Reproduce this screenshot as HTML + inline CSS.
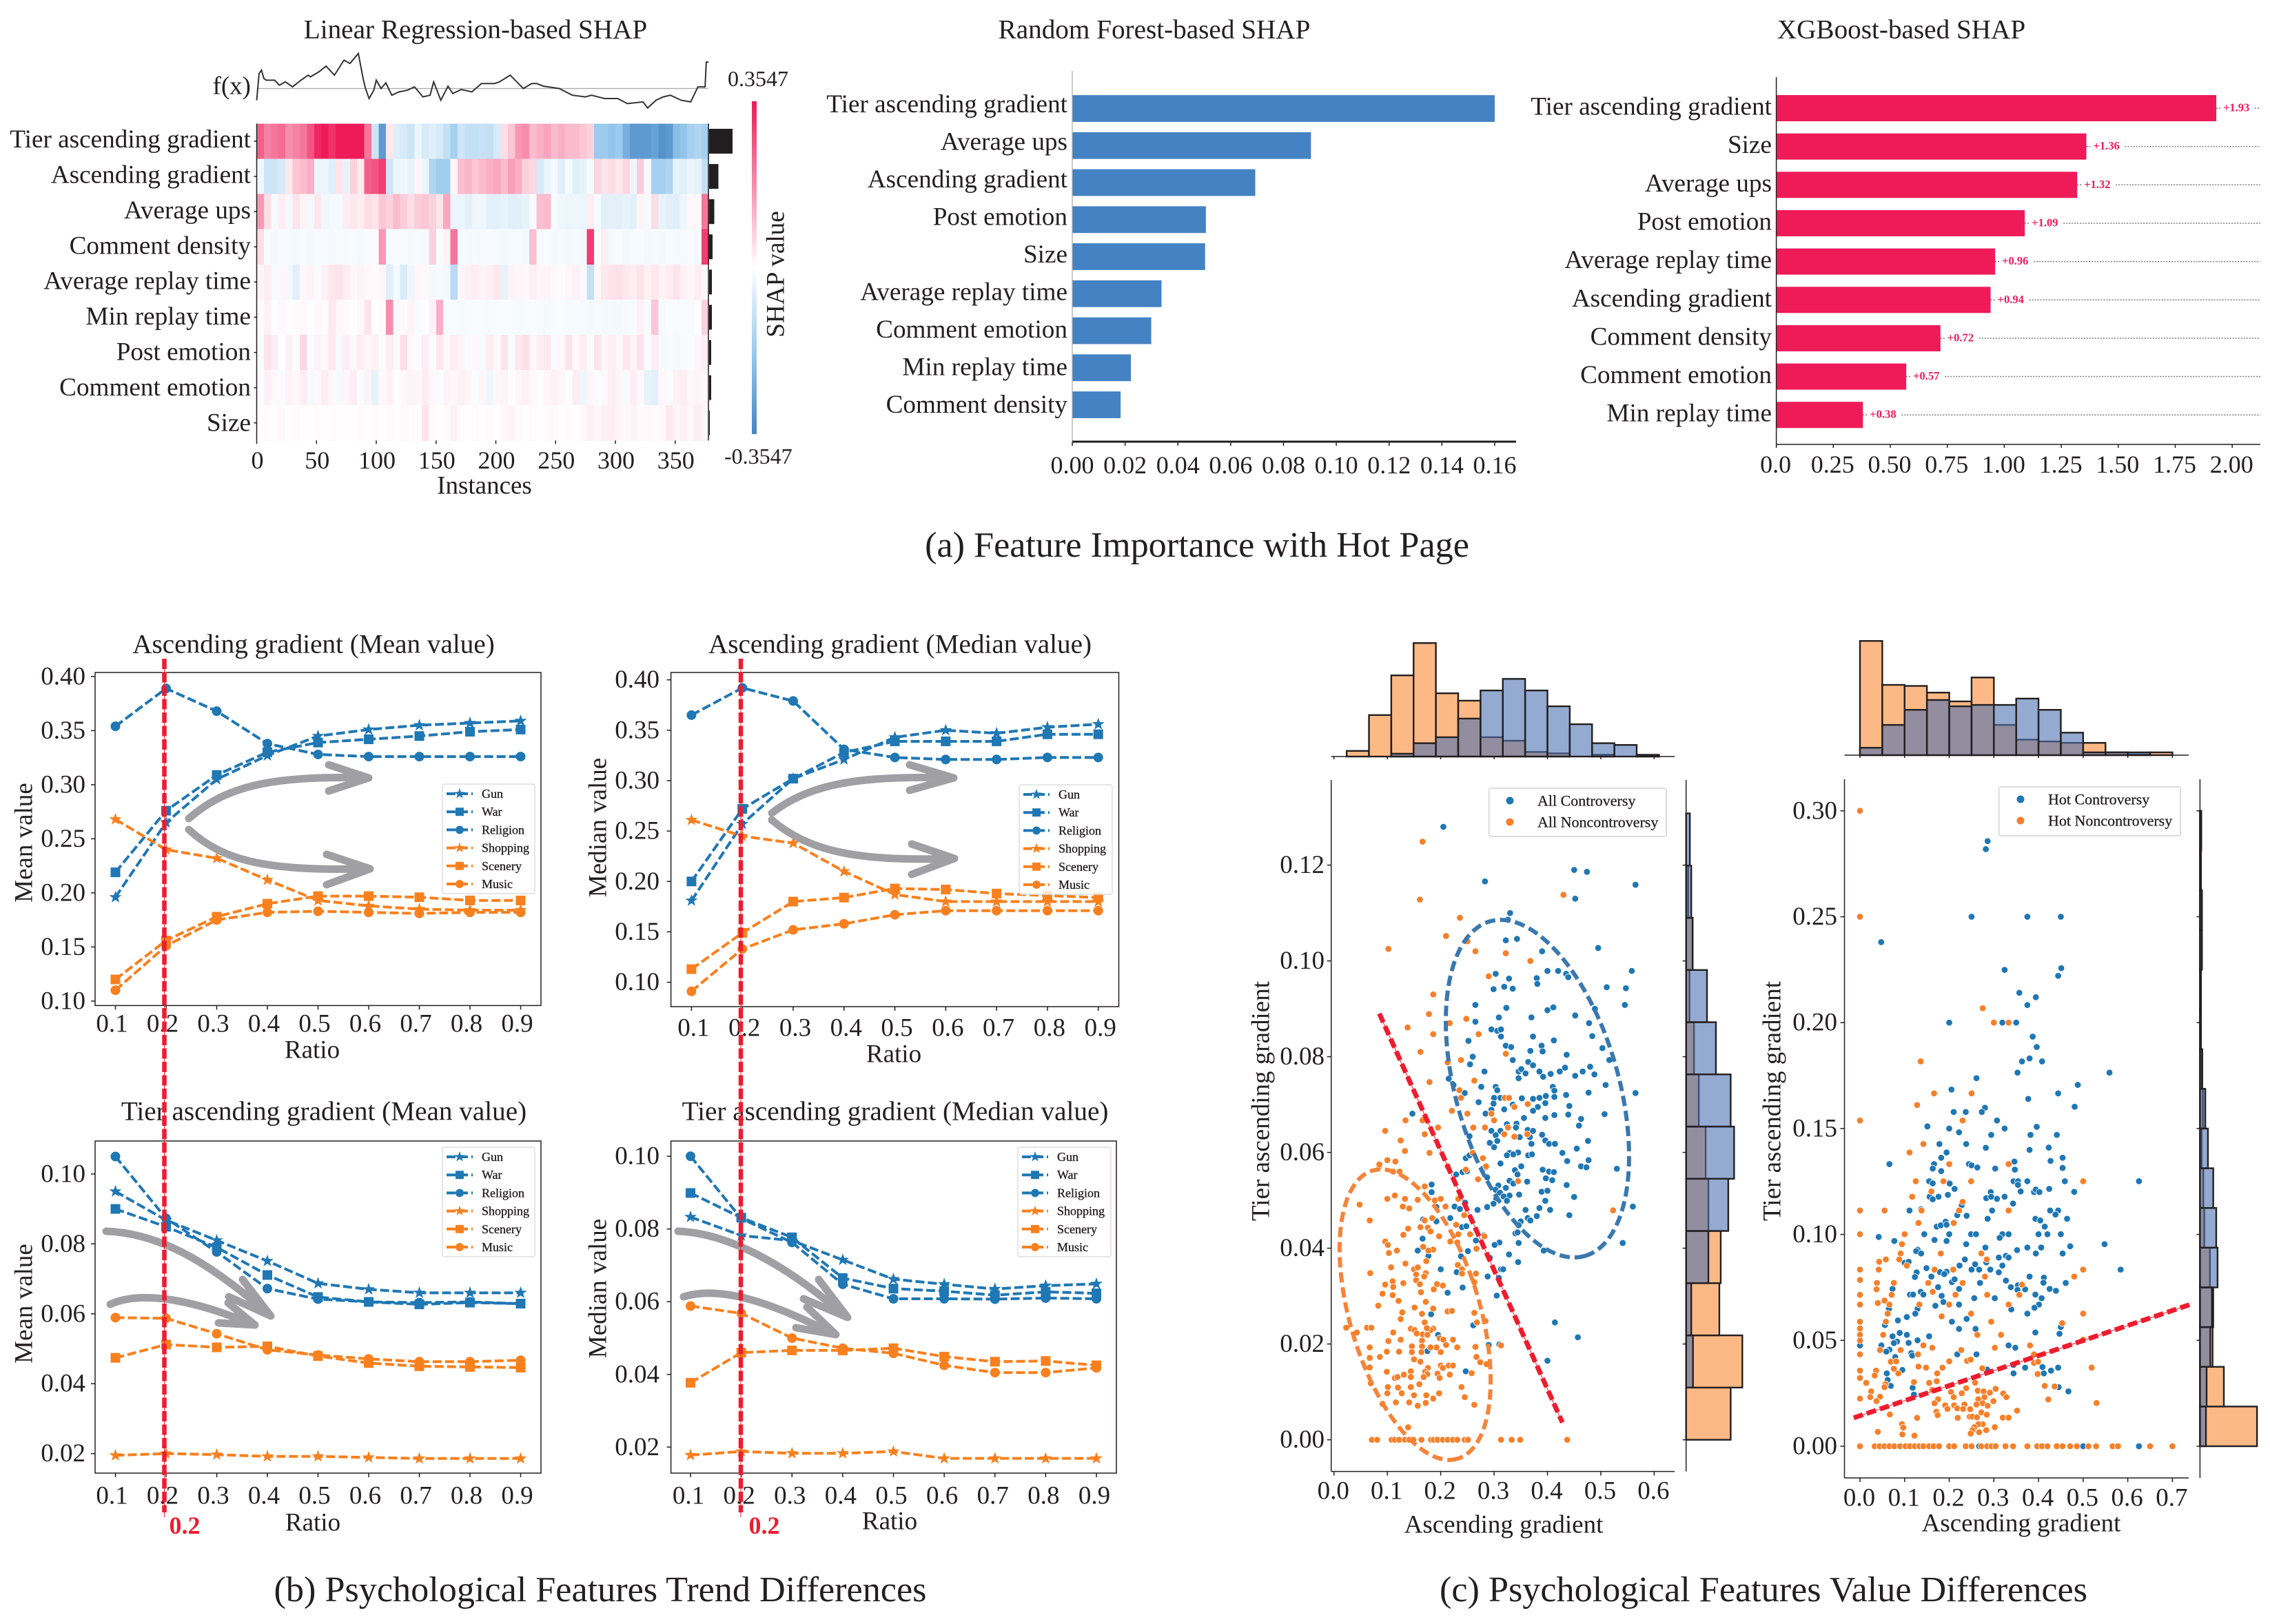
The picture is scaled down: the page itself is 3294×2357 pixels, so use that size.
<!DOCTYPE html>
<html lang="en">
<head>
<meta charset="utf-8">
<title>SHAP feature importance and psychological feature differences</title>
<style>
html,body{margin:0;padding:0;background:#fff;}
svg{display:block;font-family:"Liberation Serif",serif;}
text{fill:#231f20;}
</style>
</head>
<body>
<svg id="figure" xmlns="http://www.w3.org/2000/svg" width="3294" height="2357" viewBox="0 0 3294 2357">
<defs>
<linearGradient id="shapGradient" x1="0" y1="0" x2="0" y2="1">
<stop offset="0" stop-color="#ef1b58"/><stop offset="0.5" stop-color="#ffffff"/><stop offset="0.75" stop-color="#9ccbee"/><stop offset="1" stop-color="#4385c5"/>
</linearGradient>
</defs>
<rect x="0" y="0" width="3294" height="2357" fill="#fff"/>

<g id="panelHeat">
<text x="690" y="43" font-size="39.2" text-anchor="middle" dominant-baseline="central">Linear Regression-based SHAP</text>
<text x="364" y="125" font-size="37" text-anchor="end" dominant-baseline="central">f(x)</text>
<text x="1056" y="114" font-size="32" dominant-baseline="central">0.3547</text>
<text x="1051" y="662" font-size="32" dominant-baseline="central">-0.3547</text>
<rect x="1091" y="147" width="7" height="483" fill="url(#shapGradient)"/>
<text x="1126" y="398" font-size="37.2" text-anchor="middle" dominant-baseline="central" transform="rotate(-90 1126 398)">SHAP value</text>
<text x="703" y="705" font-size="37" text-anchor="middle" dominant-baseline="central">Instances</text>
</g>

<g id="panelRF">
<text x="1675" y="43" font-size="39.2" text-anchor="middle" dominant-baseline="central">Random Forest-based SHAP</text>
</g>
<g id="panelXGB">
<text x="2759" y="43" font-size="39.2" text-anchor="middle" dominant-baseline="central">XGBoost-based SHAP</text>
</g>
<text x="1737" y="791" font-size="52.2" text-anchor="middle" dominant-baseline="central">(a) Feature Importance with Hot Page</text>

<g id="chartAscMean">
<text x="455" y="935" font-size="39.2" text-anchor="middle" dominant-baseline="central">Ascending gradient (Mean value)</text>
<text x="35" y="1223" font-size="37" text-anchor="middle" dominant-baseline="central" transform="rotate(-90 35 1223)">Mean value</text>
<text x="453" y="1524" font-size="37" text-anchor="middle" dominant-baseline="central">Ratio</text>
</g>
<g id="chartAscMedian">
<text x="1306" y="935" font-size="39.2" text-anchor="middle" dominant-baseline="central">Ascending gradient (Median value)</text>
<text x="868" y="1201" font-size="37" text-anchor="middle" dominant-baseline="central" transform="rotate(-90 868 1201)">Median value</text>
<text x="1297" y="1530" font-size="37" text-anchor="middle" dominant-baseline="central">Ratio</text>
</g>
<g id="chartTierMean">
<text x="470" y="1613" font-size="39.2" text-anchor="middle" dominant-baseline="central">Tier ascending gradient (Mean value)</text>
<text x="35" y="1892" font-size="37" text-anchor="middle" dominant-baseline="central" transform="rotate(-90 35 1892)">Mean value</text>
<text x="454" y="2210" font-size="37" text-anchor="middle" dominant-baseline="central">Ratio</text>
</g>
<g id="chartTierMedian">
<text x="1299" y="1613" font-size="39.2" text-anchor="middle" dominant-baseline="central">Tier ascending gradient (Median value)</text>
<text x="868" y="1870" font-size="37" text-anchor="middle" dominant-baseline="central" transform="rotate(-90 868 1870)">Median value</text>
<text x="1291" y="2208" font-size="37" text-anchor="middle" dominant-baseline="central">Ratio</text>
</g>
<g id="annotationArrows" fill="none" stroke="#a0a0a4" stroke-width="11" stroke-linecap="round" stroke-linejoin="round">
<path d="M274 1188 C325 1143 390 1125 529 1129 M477 1110 L535 1129 L477 1148"/>
<path d="M274 1204 C325 1251 390 1264 530 1261 M474 1240 L537 1261 L474 1284"/>
<path d="M1120 1180 C1171 1141 1236 1125 1377 1129 M1320 1110 L1384 1129 L1320 1147"/>
<path d="M1120 1190 C1171 1234 1242 1251 1378 1246 M1323 1225 L1385 1246 L1323 1269"/>
<path d="M154 1787 C238 1790 309 1838 390 1907 M352 1857 L393 1910 L332 1882"/>
<path d="M160 1893 C206 1872 282 1887 366 1922 M331 1891 L370 1923 L317 1920"/>
<path d="M984 1787 C1063 1790 1150 1843 1227 1911 M1188 1857 L1230 1912 L1166 1885"/>
<path d="M992 1882 C1047 1865 1123 1892 1209 1936 M1171 1897 L1213 1937 L1155 1927"/>
</g>
<g>
<line x1="238.5" y1="956" x2="238.5" y2="2195" stroke="#ee1c2e" stroke-width="6.5" stroke-dasharray="15 4.5"/>
<line x1="238.5" y1="956" x2="238.5" y2="2202" stroke="#ee1c2e" stroke-width="1"/>
<line x1="1075" y1="956" x2="1075" y2="2195" stroke="#ee1c2e" stroke-width="6.5" stroke-dasharray="15 4.5"/>
<line x1="1075" y1="956" x2="1075" y2="2202" stroke="#ee1c2e" stroke-width="1"/>
<text x="268" y="2214" font-size="36" font-weight="bold" text-anchor="middle" dominant-baseline="central" style="fill:#ee1c2e">0.2</text>
<text x="1109" y="2214" font-size="36" font-weight="bold" text-anchor="middle" dominant-baseline="central" style="fill:#ee1c2e">0.2</text>
</g>
<text x="871" y="2307" font-size="52.2" text-anchor="middle" dominant-baseline="central">(b) Psychological Features Trend Differences</text>

<g id="scatterAll">
<text x="2182" y="2213" font-size="37" text-anchor="middle" dominant-baseline="central">Ascending gradient</text>
<text x="1830" y="1598" font-size="37" text-anchor="middle" dominant-baseline="central" transform="rotate(-90 1830 1598)">Tier ascending gradient</text>
</g>
<g id="scatterHot">
<text x="2933" y="2211" font-size="37" text-anchor="middle" dominant-baseline="central">Ascending gradient</text>
<text x="2572" y="1598" font-size="37" text-anchor="middle" dominant-baseline="central" transform="rotate(-90 2572 1598)">Tier ascending gradient</text>
</g>
<text x="2559" y="2307" font-size="52.2" text-anchor="middle" dominant-baseline="central">(c) Psychological Features Value Differences</text>
</svg>

<script>
/* ---------- panel (a) data ---------- */
const heatFeatures = ["Tier ascending gradient","Ascending gradient","Average ups","Comment density","Average replay time","Min replay time","Post emotion","Comment emotion","Size"];
const heatInstanceTicks = [0,50,100,150,200,250,300,350];
const heatInstanceCount = 378;
const heatTier = [70,55,60,65,50,55,60,75,95,100,90,100,100,100,100,60,-25,-85,10,-15,-20,-25,-10,-20,-15,-20,-30,-45,-25,-30,-30,-28,-30,-20,15,25,45,50,30,35,40,30,35,30,30,25,20,-50,-50,-55,-50,-70,-85,-85,-85,-80,-90,-85,-60,-55,-45,-40,-45];
const heatAscending = [-8,-25,-25,-20,10,25,30,35,-10,-10,-15,12,-12,20,10,70,75,85,-25,-10,-8,-12,5,-10,-40,-48,-48,5,28,32,25,30,35,38,30,42,35,20,18,-20,-10,-5,-15,-5,-15,-12,-5,18,12,15,10,18,-8,22,-5,-45,-45,-40,-12,-15,-10,-12,-30];
const heatAverageUps = [45,15,-5,8,-6,12,5,-6,10,-8,-6,-5,8,10,8,15,12,25,20,30,22,15,22,25,20,12,38,-10,-10,-14,-8,-8,-14,-14,-12,-15,-14,-12,-4,28,30,-4,-8,-10,-8,-10,8,-5,-14,-14,-14,-12,-14,5,-5,15,-12,-14,-16,-8,4,4,60];
const heatCommentDensity = [15,-4,-6,-4,-5,-6,-3,-6,-5,-4,-6,-4,-5,-4,-6,-3,-4,45,-5,-4,-4,-5,-4,-6,20,-3,5,60,-5,-6,-5,-6,-4,-5,-6,-5,-5,-6,28,-5,-3,-6,-5,-6,-5,-6,85,-4,8,-5,-4,-6,-5,-4,-6,-5,-6,-4,-5,-6,-4,-6,85];
const heatAverageReplay = [5,8,-5,4,-6,-15,3,5,-3,6,10,12,8,3,5,3,2,4,-15,-5,-18,-8,4,3,-6,-5,-6,-35,4,6,8,5,6,10,-12,5,4,3,7,4,5,3,2,4,6,3,-30,4,10,12,13,10,8,12,6,10,5,8,12,6,4,8,3];
const heatMinReplay = [2,6,-2,3,-2,2,3,-2,3,2,10,4,2,-2,3,12,-2,2,50,3,2,5,-3,-2,6,35,-3,-4,-5,-4,-3,-4,-5,-4,-3,-4,-5,-4,-3,-4,-5,-4,-3,-5,-4,-5,-6,-5,-6,-5,-6,-5,-4,6,-4,25,-5,-3,-4,-3,-4,-2,20];
const heatPostEmotion = [-3,12,8,-2,6,-2,18,-3,5,3,10,-4,8,3,8,4,6,-3,8,-4,14,3,-3,8,-3,10,3,8,5,-3,4,-4,8,3,12,-3,10,14,3,8,10,-3,4,12,3,8,-3,12,4,8,3,10,5,12,-3,8,-5,-4,-5,-4,-3,4,8];
const heatCommentEmotion = [-2,6,3,-3,5,3,8,-6,3,8,3,-5,4,8,-3,5,-12,3,6,-2,3,5,4,8,3,-3,5,3,6,4,-3,4,-8,3,5,-2,4,6,3,-2,4,6,3,-2,8,-8,4,-3,3,8,4,-5,8,3,-12,-14,3,-3,6,8,3,5,3];
const heatSize = [1,2,1,3,1,2,1,1,2,1,2,1,1,1,2,1,2,1,2,1,3,2,1,12,2,1,2,6,2,1,2,1,2,1,3,5,2,1,2,1,2,3,1,2,1,3,6,3,6,8,4,3,5,2,3,2,3,10,4,6,3,8,4];
const heatMeanAbs = [34,13.5,7.5,5,4,4,3,3,1];
const fxInstances = [0,2,4,6,8,15,19,24,30,37,43,45,52,58,65,73,78,85,89,91,94,98,100,104,108,113,119,126,132,139,145,148,154,160,164,171,180,188,199,203,212,223,230,234,240,253,264,275,280,291,302,310,323,327,334,340,346,355,363,369,375,376,378];
const fxValues = [-.35,.45,.55,.3,.25,.25,.1,.2,.05,.25,.4,.35,.5,.67,.4,.85,.75,1.05,.3,0,-.3,-.05,.25,0,.17,-.2,-.1,-.05,.05,-.25,-.2,.2,-.35,.07,-.15,-.03,-.1,.15,.15,.2,.4,0,.15,.15,.07,0,-.2,-.25,-.2,-.3,-.3,-.45,-.4,-.58,-.35,-.25,-.2,-.35,-.4,.05,.05,.79,.79];

const rfFeatures = ["Tier ascending gradient","Average ups","Ascending gradient","Post emotion","Size","Average replay time","Comment emotion","Min replay time","Comment density"];
const rfValues = [.16,.0904,.0693,.0506,.0503,.0338,.0299,.0222,.0183];
const rfTicks = [0,.02,.04,.06,.08,.10,.12,.14,.16];

const xgbFeatures = ["Tier ascending gradient","Size","Average ups","Post emotion","Average replay time","Ascending gradient","Comment density","Comment emotion","Min replay time"];
const xgbValues = [1.93,1.36,1.32,1.09,.96,.94,.72,.57,.38];
const xgbTicks = [0,.25,.5,.75,1,1.25,1.5,1.75,2];
const xgbTickLabels = ["0.0","0.25","0.50","0.75","1.00","1.25","1.50","1.75","2.00"];

/* ---------- panel (b) data ---------- */
const ratios = [.1,.2,.3,.4,.5,.6,.7,.8,.9];
const seriesNames = ["Gun","War","Religion","Shopping","Scenery","Music"];
const ascMeanTicks = [.10,.15,.20,.25,.30,.35,.40];
const tierTicks = [.02,.04,.06,.08,.10];
const ascMeanGun = [.196,.265,.305,.327,.345,.351,.355,.357,.359];
const ascMeanWar = [.219,.276,.309,.330,.339,.342,.345,.349,.351];
const ascMeanReligion = [.354,.389,.368,.338,.328,.326,.326,.326,.326];
const ascMeanShopping = [.268,.240,.232,.212,.193,.188,.185,.184,.184];
const ascMeanScenery = [.120,.156,.178,.190,.197,.197,.196,.193,.193];
const ascMeanMusic = [.110,.151,.175,.182,.183,.182,.181,.182,.182];
const ascMedianGun = [.181,.257,.302,.321,.343,.350,.347,.353,.356];
const ascMedianWar = [.200,.272,.302,.328,.339,.339,.339,.346,.346];
const ascMedianReligion = [.365,.392,.379,.331,.323,.321,.321,.323,.323];
const ascMedianShopping = [.261,.245,.238,.210,.187,.180,.180,.180,.180];
const ascMedianScenery = [.113,.149,.180,.184,.193,.192,.188,.186,.184];
const ascMedianMusic = [.091,.133,.152,.158,.167,.171,.171,.171,.171];
const tierMeanGun = [.095,.0868,.081,.0751,.0687,.067,.066,.066,.066];
const tierMeanWar = [.090,.0849,.079,.0711,.0648,.0634,.0627,.0632,.0629];
const tierMeanReligion = [.105,.0873,.0777,.0672,.0642,.0634,.0632,.0634,.0629];
const tierMeanShopping = [.0195,.02,.0197,.0192,.0192,.0189,.0186,.0186,.0186];
const tierMeanScenery = [.0474,.0512,.0504,.0507,.0479,.0459,.045,.0448,.0446];
const tierMeanMusic = [.0589,.0587,.0543,.0497,.0482,.0471,.0463,.0463,.0467];
const tierMedianGun = [.0833,.0782,.0768,.0715,.0662,.0648,.0635,.0644,.0649];
const tierMedianWar = [.0899,.0831,.0777,.0665,.0636,.0629,.0618,.0627,.0623];
const tierMedianReligion = [.100,.0829,.0763,.0648,.0608,.0608,.0607,.0610,.0608];
const tierMedianShopping = [.0178,.0188,.0183,.0183,.0188,.0169,.0169,.0169,.0169];
const tierMedianScenery = [.0377,.046,.0466,.0466,.0472,.0449,.0435,.0437,.0425];
const tierMedianMusic = [.0588,.0568,.05,.0472,.0458,.0425,.0405,.0405,.0418];

/* ---------- panel (c) data ---------- */
const allControversyPoints = [[.205,.128],[.283,.1166],[.45,.119],[.474,.1186],[.565,.1159],[.452,.113],[.33,.11],[.326,.1086],[.322,.1043],[.343,.1046],[.495,.1027],[.39,.102],[.4,.0979],[.42,.0979],[.435,.0973],[.558,.0979],[.303,.0973],[.328,.0963],[.38,.0964],[.381,.0952],[.439,.0966],[.299,.0941],[.319,.0946],[.335,.0942],[.511,.0945],[.547,.0943],[.545,.0908],[.265,.0908],[.323,.0902],[.4,.0897],[.411,.0903],[.489,.09],[.452,.0886],[.309,.0882],[.37,.0882],[.265,.0873],[.478,.087],[.295,.0857],[.306,.0854],[.313,.0857],[.313,.0842],[.373,.0842],[.484,.0843],[.252,.0833],[.412,.0834],[.322,.0823],[.332,.082],[.389,.0823],[.368,.0812],[.391,.0811],[.503,.0818],[.436,.0804],[.26,.08],[.335,.0793],[.516,.0793],[.364,.0789],[.255,.0784],[.373,.0782],[.282,.0769],[.346,.0769],[.351,.0774],[.359,.0765],[.385,.0769],[.406,.0764],[.423,.0769],[.433,.0777],[.466,.0769],[.48,.0779],[.392,.0758],[.452,.076],[.488,.0763],[.346,.0755],[.215,.0754],[.224,.0741],[.276,.0737],[.509,.0741],[.303,.0737],[.306,.073],[.41,.0737],[.245,.0724],[.413,.0729],[.435,.072],[.477,.0725],[.565,.0724],[.3,.0714],[.312,.0714],[.352,.0713],[.373,.0712],[.385,.0714],[.397,.0718],[.413,.0716],[.271,.0705],[.299,.0702],[.335,.07],[.396,.0703],[.441,.0697],[.382,.0695],[.373,.0687],[.295,.0689],[.319,.069],[.284,.0681],[.147,.0681],[.507,.068],[.396,.0672],[.356,.0672],[.413,.0678],[.439,.0679],[.463,.067],[.324,.0659],[.342,.066],[.459,.0656],[.341,.0652],[.312,.0645],[.295,.0645],[.363,.0647],[.373,.0645],[.39,.0637],[.254,.0634],[.303,.0636],[.348,.0632],[.367,.0632],[.306,.0624],[.396,.0625],[.403,.0618],[.414,.0618],[.476,.0624],[.292,.062],[.37,.0618],[.3,.0611],[.455,.0608],[.428,.0599],[.345,.06],[.329,.0599],[.336,.0596],[.324,.0594],[.364,.0594],[.371,.0596],[.247,.0588],[.254,.0594],[.437,.0582],[.477,.0584],[.279,.0566],[.312,.0577],[.463,.0571],[.473,.0569],[.53,.0566],[.351,.0571],[.339,.0563],[.229,.0554],[.241,.0559],[.249,.0561],[.285,.0569],[.391,.0564],[.403,.056],[.412,.0559],[.344,.0554],[.397,.0546],[.409,.0542],[.287,.0548],[.362,.0539],[.329,.0541],[.336,.0535],[.183,.0533],[.308,.0531],[.436,.0532],[.322,.0526],[.303,.0522],[.311,.0516],[.389,.0518],[.4,.052],[.183,.0517],[.347,.0512],[.329,.051],[.318,.0508],[.304,.0503],[.45,.0507],[.396,.0499],[.324,.0499],[.299,.0493],[.246,.0495],[.226,.0487],[.236,.0482],[.269,.048],[.287,.0486],[.192,.0486],[.385,.0484],[.405,.048],[.359,.048],[.56,.0487],[.38,.0467],[.441,.0469],[.363,.0463],[.35,.0456],[.368,.0458],[.167,.046],[.218,.0463],[.192,.0456],[.24,.0444],[.248,.0446],[.346,.0448],[.34,.0431],[.344,.0433],[.281,.0427],[.266,.0416],[.166,.042],[.346,.0411],[.31,.0412],[.301,.0407],[.541,.0411],[.393,.0395],[.157,.0395],[.251,.0394],[.177,.0384],[.238,.0383],[.328,.0387],[.292,.038],[.345,.0371],[.313,.0356],[.317,.0356],[.2,.0356],[.23,.035],[.288,.0341],[.309,.0338],[.241,.0318],[.213,.0307],[.305,.0301],[.182,.0262],[.414,.0245],[.261,.0239],[.457,.0214],[.195,.0219],[.29,.0198],[.31,.0199],[.175,.0185],[.4,.0165],[.247,.0143]];
const allNoncontroversyPoints = [[.166,.1249],[.161,.1128],[.43,.1138],[.236,.109],[.21,.1052],[.102,.1025],[.25,.1041],[.265,.102],[.322,.1016],[.368,.1],[.29,.0968],[.186,.093],[.178,.0889],[.248,.0879],[.217,.087],[.138,.0861],[.186,.0847],[.271,.0847],[.162,.081],[.322,.0806],[.238,.0793],[.213,.0788],[.179,.0747],[.263,.075],[.235,.073],[.238,.0714],[.32,.0714],[.328,.0714],[.338,.0695],[.363,.0701],[.221,.0687],[.25,.0681],[.295,.0681],[.134,.0667],[.166,.0667],[.3,.0667],[.195,.0652],[.261,.0652],[.283,.0652],[.326,.0652],[.096,.0645],[.17,.0638],[.319,.0638],[.362,.0638],[.338,.0633],[.125,.0625],[.133,.0603],[.179,.0599],[.26,.0599],[.279,.0588],[.1,.0584],[.115,.0581],[.085,.0571],[.213,.0571],[.285,.0571],[.247,.0564],[.085,.0575],[.111,.056],[.123,.056],[.27,.0544],[.345,.054],[.17,.0529],[.114,.051],[.1,.0503],[.133,.0503],[.157,.0501],[.048,.0491],[.189,.05],[.2,.0503],[.233,.0503],[.129,.0487],[.141,.0483],[.209,.0487],[.523,.0479],[.067,.0458],[.17,.0458],[.184,.0463],[.244,.0469],[.162,.0444],[.176,.0443],[.139,.0441],[.229,.0449],[.181,.0435],[.13,.0428],[.197,.0425],[.233,.0429],[.255,.0429],[.282,.0425],[.096,.0414],[.218,.0414],[.101,.0407],[.231,.0412],[.167,.0403],[.186,.0397],[.177,.0395],[.267,.0399],[.118,.0395],[.103,.039],[.173,.0373],[.134,.0368],[.232,.0365],[.107,.036],[.15,.0356],[.157,.036],[.24,.0356],[.068,.0348],[.172,.0348],[.154,.0345],[.266,.0347],[.24,.0347],[.169,.0341],[.154,.0333],[.11,.0331],[.263,.0329],[.13,.0327],[.096,.0324],[.161,.0325],[.193,.0325],[.111,.0319],[.204,.0322],[.187,.0314],[.163,.0308],[.091,.0305],[.11,.0302],[.121,.029],[.172,.0288],[.083,.028],[.151,.0276],[.186,.0274],[.128,.0266],[.213,.0268],[.221,.0269],[.263,.0265],[.165,.0263],[.125,.0252],[.17,.0245],[.284,.0248],[.268,.0245],[.023,.0234],[.062,.0234],[.07,.0234],[.144,.0232],[.151,.0229],[.186,.0232],[.181,.0229],[.174,.0233],[.043,.0224],[.111,.0224],[.166,.022],[.155,.0222],[.175,.0219],[.198,.0212],[.205,.0209],[.223,.0209],[.125,.0209],[.102,.0206],[.165,.0207],[.146,.0195],[.192,.0193],[.165,.0195],[.067,.0193],[.231,.0193],[.265,.0194],[.21,.0198],[.313,.0197],[.181,.0193],[.099,.0184],[.122,.0184],[.146,.0183],[.164,.0183],[.2,.0183],[.086,.0173],[.067,.0171],[.267,.0173],[.15,.0168],[.162,.0163],[.274,.0162],[.286,.0158],[.2,.0155],[.215,.0155],[.223,.0155],[.204,.015],[.067,.0151],[.176,.015],[.099,.0142],[.144,.0143],[.171,.0142],[.194,.0138],[.217,.0136],[.258,.0139],[.131,.0136],[.175,.0137],[.144,.0131],[.114,.0129],[.119,.0131],[.168,.0131],[.198,.0129],[.069,.0118],[.16,.0116],[.239,.011],[.101,.011],[.12,.0109],[.144,.011],[.127,.0097],[.1,.0097],[.197,.0097],[.15,.0093],[.173,.0093],[.245,.0089],[.186,.0086],[.116,.0078],[.141,.0078],[.172,.0077],[.091,.0075],[.157,.0071],[.263,.0073],[.139,.0026],[.071,0],[.081,0],[.108,0],[.114,0],[.122,0],[.133,0],[.141,0],[.149,0],[.164,0],[.182,0],[.187,0],[.194,0],[.204,0],[.213,0],[.223,0],[.231,0],[.245,0],[.251,0],[.313,0],[.333,0],[.349,0],[.437,0]];
const hotControversyPoints = [[.286,.2857],[.282,.2819],[.25,.25],[.375,.25],[.45,.25],[.0475,.238],[.324,.2249],[.451,.2257],[.444,.2221],[.357,.2141],[.394,.212],[.375,.2083],[.2,.2],[.319,.2],[.35,.2],[.387,.1934],[.396,.1885],[.38,.1831],[.363,.1817],[.408,.1817],[.353,.1764],[.559,.1764],[.261,.1738],[.488,.1706],[.205,.1684],[.444,.1666],[.377,.164],[.481,.1603],[.28,.1598],[.21,.1578],[.237,.1578],[.273,.1578],[.307,.1538],[.151,.151],[.2,.15],[.324,.15],[.396,.1508],[.222,.1482],[.294,.147],[.382,.147],[.441,.147],[.178,.1427],[.238,.1427],[.282,.1409],[.38,.1399],[.423,.141],[.194,.1387],[.182,.1362],[.454,.1362],[.427,.1347],[.346,.1344],[.066,.1332],[.166,.1332],[.244,.1332],[.25,.1326],[.263,.1316],[.303,.1311],[.347,.1306],[.454,.1314],[.163,.1311],[.182,.1299],[.155,.1251],[.163,.1241],[.2,.1244],[.201,.124],[.212,.1215],[.344,.1251],[.354,.1251],[.375,.1251],[.354,.1234],[.459,.1251],[.424,.1215],[.36,.1203],[.39,.12],[.394,.1212],[.402,.12],[.48,.1201],[.625,.1251],[.293,.12],[.156,.1178],[.176,.1178],[.197,.1187],[.163,.1166],[.283,.1171],[.294,.1178],[.307,.1168],[.324,.1178],[.343,.1146],[.228,.1138],[.137,.1119],[.111,.1113],[.296,.1113],[.426,.1113],[.444,.1113],[.438,.1094],[.218,.1091],[.239,.1088],[.393,.1074],[.464,.1074],[.286,.1074],[.404,.1066],[.172,.1037],[.181,.1043],[.192,.106],[.194,.1046],[.414,.1037],[.144,.1001],[.2,.1001],[.249,.1001],[.26,.1001],[.319,.1001],[.333,.1001],[.4,.1001],[.42,.1001],[.45,.1001],[.313,.0984],[.042,.0988],[.077,.0969],[.167,.0974],[.194,.0969],[.238,.0954],[.548,.0954],[.281,.0938],[.375,.0938],[.406,.0938],[.471,.0944],[.129,.0928],[.126,.0921],[.137,.091],[.352,.0926],[.394,.091],[.454,.091],[.311,.0891],[.327,.0899],[.333,.0891],[.235,.0882],[.1,.0866],[.109,.0871],[.283,.0868],[.223,.0853],[.258,.0859],[.319,.0853],[.149,.0841],[.25,.0834],[.267,.0834],[.292,.0834],[.584,.0834],[.127,.0821],[.179,.0822],[.194,.0824],[.311,.0821],[.123,.0799],[.16,.0801],[.189,.0813],[.38,.0801],[.412,.0796],[.206,.0775],[.212,.0788],[.269,.0771],[.327,.0782],[.411,.0772],[.461,.0771],[.175,.0751],[.338,.0751],[.222,.0743],[.073,.0743],[.354,.076],[.37,.0741],[.353,.0738],[.425,.0743],[.439,.0734],[.136,.0729],[.112,.0716],[.119,.0716],[.142,.0716],[.183,.071],[.393,.0716],[.256,.0699],[.302,.0699],[.407,.0699],[.187,.0681],[.222,.0669],[.169,.0663],[.401,.0669],[.391,.0654],[.129,.0649],[.339,.0646],[.065,.0649],[.375,.0626],[.105,.061],[.124,.0626],[.239,.0601],[.085,.0594],[.206,.0588],[.056,.0572],[.222,.0554],[.259,.0554],[.45,.0563],[.393,.0537],[.447,.0531],[.089,.0535],[.105,.0526],[.155,.0519],[.073,.0519],[.083,.0494],[.129,.05],[.076,.0487],[.109,.0488],[0,.0476],[.048,.0476],[.333,.0476],[.348,.0465],[.066,.0456],[.059,.0447],[.115,.044],[.261,.0434],[.117,.0428],[.218,.0434],[.079,.0421],[.409,.0374],[.444,.0371],[.37,.0371],[.428,.0357],[.285,.0362],[.095,.036],[.344,.0384],[.344,.0344],[.412,.0344],[.06,.0344],[.062,.0313],[.069,.0285],[.118,.0276],[.445,.0279],[.467,.0259],[.121,.0244],[.5,0],[.625,0],[.267,0],[.344,0]];
const hotNoncontroversyPoints = [[0,.3],[0,.25],[.275,.2068],[.3,.2],[.333,.2],[.136,.1817],[.166,.1666],[.25,.1666],[.128,.1611],[0,.1538],[.23,.1538],[.142,.1427],[.111,.1387],[.2,.1332],[.333,.1332],[.125,.1251],[.187,.1251],[.249,.1251],[.5,.1251],[.16,.1203],[.117,.1178],[.23,.1154],[0,.1113],[.055,.1113],[.138,.1113],[.222,.1113],[.333,.1113],[.131,.1054],[.21,.1054],[0,.1001],[.1,.1001],[.094,.0954],[.091,.091],[.181,.091],[.272,.091],[.088,.0882],[.058,.0882],[.284,.0882],[.043,.0871],[.105,.0853],[0,.0834],[.042,.0834],[.167,.0834],[.209,.0834],[.5,.0834],[.28,.0801],[.48,.0801],[0,.0785],[.038,.0771],[.076,.0771],[.153,.0771],[.23,.0771],[.363,.0763],[.037,.0741],[.163,.0729],[0,.0715],[.071,.0715],[.214,.0715],[.285,.0715],[.357,.0715],[.055,.0688],[.04,.0676],[0,.0669],[.066,.0669],[.133,.0669],[.2,.0669],[.333,.0669],[.062,.0626],[.249,.0626],[.5,.0626],[.183,.0613],[0,.0588],[.058,.0588],[.294,.0588],[.453,.0581],[0,.0556],[0,.0526],[.052,.0526],[.263,.0526],[.316,.0526],[0,.0499],[.5,.0503],[.142,.0476],[.381,.0476],[.162,.0465],[.302,.0465],[.227,.0454],[.045,.0454],[.091,.0454],[0,.0434],[.13,.0434],[.39,.0434],[.24,.0403],[.248,.0409],[.2,.0401],[.069,.0399],[.081,.0401],[.39,.0393],[.399,.0399],[.076,.0366],[.131,.0376],[.148,.0371],[.185,.0371],[.274,.0368],[.519,.0371],[0,.0357],[.036,.0357],[.086,.0344],[.173,.0344],[.033,.0334],[.398,.0341],[0,.0322],[.172,.0307],[.014,.0299],[.121,.0303],[.155,.0299],[.258,.03],[.057,.0293],[.055,.0279],[.414,.0285],[.436,.0282],[.304,.0271],[.238,.0274],[.025,.0259],[.162,.0266],[.204,.0256],[.264,.0262],[.277,.0259],[.291,.0253],[.321,.0249],[.228,.025],[.023,.0232],[.045,.0234],[.21,.0232],[.279,.0232],[0,.0225],[.328,.0232],[.175,.0222],[.265,.0222],[.299,.0213],[.037,.0213],[.422,.0221],[.167,.0203],[.275,.0203],[.53,.0204],[.191,.0193],[.211,.0193],[.234,.0197],[.261,.0197],[.286,.0191],[.196,.0176],[.218,.0179],[.231,.0176],[.247,.0175],[.352,.0168],[.171,.0163],[.272,.016],[.067,.015],[.174,.0147],[.284,.0149],[.246,.014],[.252,.014],[.32,.0135],[.333,.0135],[.128,.0134],[.219,.0134],[.262,.0137],[.094,.0104],[.097,.0088],[.275,.0104],[.265,.0104],[.302,.009],[.256,.009],[.252,.0076],[.283,.0076],[.04,.0068],[.267,.0066],[.248,.006],[.095,.0056],[.122,.005],[0,0],[.033,0],[.044,0],[.055,0],[.066,0],[.077,0],[.09,0],[.102,0],[.112,0],[.123,0],[.133,0],[.142,0],[.155,0],[.165,0],[.177,0],[.2,0],[.211,0],[.237,0],[.25,0],[.272,0],[.285,0],[.295,0],[.304,0],[.326,0],[.343,0],[.375,0],[.397,0],[.408,0],[.42,0],[.441,0],[.454,0],[.471,0],[.486,0],[.512,0],[.529,0],[.566,0],[.578,0],[.65,0],[.7,0]];
const allTopHistOrange = [16,118,231,323,180,159,55,45,13,9,0,5,0,3];
const allTopHistBlue = [0,0,8,38,55,108,188,221,188,143,92,38,33,5];
const allRightHistOrange = [130,164,97,101,65,57,37,23,10,19,6,0];
const allRightHistBlue = [0,20,15,65,123,140,130,87,61,19,15,11];
const hotTopHistOrange = [325,200,197,178,153,221,86,44,39,35,35,8,2,8];
const hotTopHistBlue = [21,86,129,157,139,143,143,161,129,64,8,8,8,0];
const hotRightHistOrange = [172,72,38,40,30,13,10,5,9,3,1,1,2,2,1,4];
const hotRightHistBlue = [18,20,31,36,53,49,40,24,16,7,3,3,6,6,3,3];
const allXTicks = [0,.1,.2,.3,.4,.5,.6];
const allYTicks = [0,.02,.04,.06,.08,.10,.12];
const hotXTicks = [0,.1,.2,.3,.4,.5,.6,.7];
const hotYTicks = [0,.05,.10,.15,.20,.25,.30];

/* ---------- helpers ---------- */
const NS = 'http://www.w3.org/2000/svg';
const INK = '#231f20';
function mk(tag, attrs, parent){
  const e = document.createElementNS(NS, tag);
  for (const k in attrs) e.setAttribute(k, attrs[k]);
  parent.appendChild(e);
  return e;
}
function write(str, x, y, size, anchor, parent){
  const t = mk('text', {x:x, y:y, 'font-size':size, 'text-anchor':anchor, 'dominant-baseline':'central'}, parent);
  t.textContent = str;
  return t;
}
function xTick(parent, x, y1, len, str, labelX, labelY, size){
  const l = mk('line', {x1:x, x2:x, y1:y1, y2:y1+len, stroke:INK, 'stroke-width':1.5}, parent);
  
  
  if (str === null) return;
  const t = write(str, labelX, labelY, size, 'middle', parent);
  
  
}
function yTick(parent, y, x1, len, str, labelX, size){
  const l = mk('line', {x1:x1-len, x2:x1, y1:y, y2:y, stroke:INK, 'stroke-width':1.5}, parent);
  
  
  if (str === null) return;
  const t = write(str, labelX, y, size, 'end', parent);
  
  
}
function axisLine(parent, x1, y1, x2, y2, width){
  const l = mk('line', {x1:x1, y1:y1, x2:x2, y2:y2, stroke:INK, 'stroke-width':width}, parent);
  
  
  return l;
}
function mix(a, b, t){
  return 'rgb(' + a.map((v,i)=>Math.round(v+(b[i]-v)*t)).join(',') + ')';
}
function shapColor(v){
  const t = Math.min(1, Math.abs(v)/100);
  if (v >= 0) return mix([255,255,255],[239,27,88],t);
  if (t < .5) return mix([255,255,255],[156,203,238],t*2);
  return mix([156,203,238],[67,133,197],(t-.5)*2);
}

/* ---------- panel a: heatmap ---------- */
(function(){
  const g = document.getElementById('panelHeat');
  const left = 372.5, top = 179.4, rowH = 51.1, perInst = 1.735, right = 1028;
  const x = i => left + i*perInst;
  const rows = [heatTier,heatAscending,heatAverageUps,heatCommentDensity,heatAverageReplay,heatMinReplay,heatPostEmotion,heatCommentEmotion,heatSize];
  rows.forEach((row, r) => {
    const w = heatInstanceCount/row.length;
    row.forEach((v, i) => {
      const c = mk('rect', {x:x(i*w), y:top+r*rowH, width:w*perInst+.6, height:rowH+.5, fill:shapColor(v), 'shape-rendering':'crispEdges'}, g);
      
      
    });
    yTick(g, top+(r+.5)*rowH, left, 4, null);
    const fl = write(heatFeatures[r], 364, top+(r+.5)*rowH-2.4+r*.3, 37.2, 'end', g);
    
    
    const b = mk('rect', {x:right+1, y:top+(r+.5)*rowH-18, width:heatMeanAbs[r], height:36, fill:'#231f20'}, g);
    
    
  });
  axisLine(g, left, top, left, top+9*rowH, 1.5);
  axisLine(g, right, top, right, top+9*rowH, 1.5);
  heatInstanceTicks.forEach(t => xTick(g, x(t), top+9*rowH, 5, String(t), x(t)+1, 668, 36));
  const fy = v => 128.5 - v*48.5;
  const base = mk('line', {x1:left, x2:right, y1:fy(0), y2:fy(0), stroke:'#aaa', 'stroke-width':1.2}, g);
  
  
  const fx = mk('polyline', {points:fxInstances.map((t,i)=>x(t)+','+fy(fxValues[i])).join(' '), fill:'none', stroke:'#333', 'stroke-width':2}, g);
  
  
})();

/* ---------- panel a: random forest bars ---------- */
(function(){
  const g = document.getElementById('panelRF');
  const x0 = 1556, perUnit = 3831, y0 = 157.5, step = 53.75, h = 38.8;
  const x = v => x0 + v*perUnit;
  rfValues.forEach((v, i) => {
    const b = mk('rect', {x:x0, y:y0+i*step-h/2, width:x(v)-x0, height:h, fill:'#4482c4'}, g);
    
    
    const t = write(rfFeatures[i], 1549, 151.3+i*54.5, 37.2, 'end', g);
    
    
  });
  const ya = axisLine(g, x0, 103, x0, 642, 1.2);
  ya.setAttribute('stroke', '#aaa');
  axisLine(g, x0, 641, 2200, 641, 3);
  rfTicks.forEach(t => xTick(g, x(t), 642, 5, t.toFixed(2), x(t), 675, 36));
})();

/* ---------- panel a: xgboost bars ---------- */
(function(){
  const g = document.getElementById('panelXGB');
  const x0 = 2577.6, perUnit = 330.8, y0 = 157, step = 55.65, h = 38;
  const x = v => x0 + v*perUnit;
  xgbValues.forEach((v, i) => {
    const cy = y0+i*step;
    const d = mk('line', {x1:x(v), x2:3280, y1:cy, y2:cy, stroke:'#777', 'stroke-width':1.5, 'stroke-dasharray':'2 2'}, g);
    
    
    const b = mk('rect', {x:x0, y:cy-h/2, width:x(v)-x0, height:h, fill:'#ef1b58'}, g);
    
    
    const bg = mk('rect', {x:x(v)+8, y:cy-8, width:46, height:15, fill:'#fff'}, g);
    
    
    const val = write('+'+v.toFixed(2), x(v)+10, cy-1, 16.5, 'start', g);
    
    
    val.setAttribute('font-weight', 'bold');
    val.style.fill = '#ef1b58';
    const t = write(xgbFeatures[i], 2571, cy-2, 37.2, 'end', g);
    
    
  });
  axisLine(g, x0, 112, x0, 645, 1.5);
  axisLine(g, x0, 645, 3280, 645, 1.5);
  xgbTicks.forEach((t, i) => xTick(g, x(t), 645, 5, xgbTickLabels[i], x(t)-1, 674, 36));
})();

/* ---------- panel b: line charts ---------- */
function starPath(cx, cy, R){
  let d = '';
  for (let i = 0; i < 10; i++){
    const r = i%2 ? R*.4 : R;
    const a = -Math.PI/2 + i*Math.PI/5;
    d += (i?'L':'M') + (cx+r*Math.cos(a)).toFixed(1) + ' ' + (cy+r*Math.sin(a)).toFixed(1);
  }
  return d+'Z';
}
function marker(kind, cx, cy, color, parent, scale){
  let m;
  if (kind === 0) m = mk('path', {d:starPath(cx,cy,9.5*scale), fill:color}, parent);
  else if (kind === 1) m = mk('rect', {x:cx-7*scale, y:cy-7*scale, width:14*scale, height:14*scale, fill:color}, parent);
  else m = mk('circle', {cx:cx, cy:cy, r:7*scale, fill:color}, parent);
  return m;
}
const seriesColors = ['#1f77b4','#1f77b4','#1f77b4','#f8801e','#f8801e','#f8801e'];
function lineChart(id, box, x01, x09, refValue, refPx, pxPerUnit, ticks, tickRight, xLabelY, xLabelShift, legendBox, series){
  const g = document.getElementById(id);
  const x = r => x01 + (r-.1)/.8*(x09-x01);
  const y = v => refPx - (v-refValue)*pxPerUnit;
  const frame = mk('rect', {x:box[0], y:box[1], width:box[2]-box[0], height:box[3]-box[1], fill:'none', stroke:INK, 'stroke-width':1.5}, g);
  
  
  ticks.forEach(t => yTick(g, y(t), box[0], 6, t.toFixed(2), tickRight, 37));
  ratios.forEach(r => xTick(g, x(r), box[3], 6, r.toFixed(1), x(r)+xLabelShift, xLabelY, 37));
  series.forEach((vals, s) => {
    const p = mk('polyline', {points:vals.map((v,i)=>x(ratios[i])+','+y(v)).join(' '), fill:'none', stroke:seriesColors[s], 'stroke-width':4, 'stroke-dasharray':'13 5'}, g);
    
    
    vals.forEach((v, i) => {
      const m = marker(s%3, x(ratios[i]), y(v), seriesColors[s], g, 1);
      
      
    });
  });
  const lg = mk('g', {}, g);
  
  
  const lb = mk('rect', {x:legendBox[0], y:legendBox[1], width:legendBox[2]-legendBox[0], height:legendBox[3]-legendBox[1], rx:3, fill:'#fff', 'fill-opacity':.8, stroke:'#ddd', 'stroke-width':1.5}, lg);
  
  
  const rowH = (legendBox[3]-legendBox[1]-28)/5;
  seriesNames.forEach((name, s) => {
    const ly = legendBox[1]+14+s*rowH;
    const hx = legendBox[0]+6;
    const h = mk('line', {x1:hx, x2:hx+38, y1:ly, y2:ly, stroke:seriesColors[s], 'stroke-width':4, 'stroke-dasharray':'13 5'}, lg);
    
    
    const m = marker(s%3, hx+19, ly, seriesColors[s], lg, .85);
    
    
    const t = write(name, legendBox[0]+57, ly, 18, 'start', lg);
    
    
    t.setAttribute('stroke', '#231f20');
    t.setAttribute('stroke-width', '.35');
  });
}
lineChart('chartAscMean',[138,976,785,1459.4],167.5,755.5,.10,1452.9,1570,ascMeanTicks,124,1486,-5,[642,1138,776,1297],
  [ascMeanGun,ascMeanWar,ascMeanReligion,ascMeanShopping,ascMeanScenery,ascMeanMusic]);
lineChart('chartAscMedian',[973.6,976,1623.5,1461],1003.4,1593.7,.10,1425.6,1463,ascMeanTicks,957,1492,3,[1479,1139,1614,1298],
  [ascMedianGun,ascMedianWar,ascMedianReligion,ascMedianShopping,ascMedianScenery,ascMedianMusic]);
lineChart('chartTierMean',[138,1656,785,2138],167.5,755.5,.02,2109.7,5073,tierTicks,124,2171,-5,[642,1665,776,1824],
  [tierMeanGun,tierMeanWar,tierMeanReligion,tierMeanShopping,tierMeanScenery,tierMeanMusic]);
lineChart('chartTierMedian',[973.6,1656,1620,2138],1002,1591,.02,2100.3,5277,tierTicks,957,2171,-3,[1477,1665,1612,1824],
  [tierMedianGun,tierMedianWar,tierMedianReligion,tierMedianShopping,tierMedianScenery,tierMedianMusic]);

/* ---------- panel c: joint plots ---------- */
const HIST_BLUE = 'rgba(76,114,176,.6)';
const HIST_ORANGE = 'rgba(251,138,52,.6)';
function jointPlot(id, L, blue, orange, topO, topB, rightO, rightB, xTicks, yTicks, legendNames){
  const g = document.getElementById(id);
  const x = v => L.x0 + v*L.xScale;
  const y = v => L.y0 - v*L.yScale;
  /* top marginal histogram */
  const drawTop = (vals, fill) => vals.forEach((c, i) => {
    if (!c) return;
    const bx = x(L.topEdge + i*L.topBin), bw = L.topBin*L.xScale;
    const b = mk('rect', {x:bx, y:L.topBase-c*L.topK, width:bw, height:c*L.topK, fill:fill, stroke:INK, 'stroke-width':2.4}, g);
    
    
  });
  drawTop(topO, HIST_ORANGE);
  drawTop(topB, HIST_BLUE);
  axisLine(g, L.left, L.topBase, L.right, L.topBase, 1.5);
  xTicks.forEach(t => xTick(g, x(t), L.topBase, 4, null));
  /* right marginal histogram */
  const drawRight = (vals, fill) => vals.forEach((c, i) => {
    if (!c) return;
    const by = y(L.rightEdge + (i+1)*L.rightBin), bh = L.rightBin*L.yScale;
    const b = mk('rect', {x:L.rightX, y:by, width:c*L.rightK, height:bh, fill:fill, stroke:INK, 'stroke-width':2.4}, g);
    
    
  });
  drawRight(rightO, HIST_ORANGE);
  drawRight(rightB, HIST_BLUE);
  axisLine(g, L.rightX, L.top, L.rightX, L.bottom, 1.5);
  yTicks.forEach(t => yTick(g, y(t), L.rightX, 5, null));
  /* main axes */
  axisLine(g, L.left, L.top, L.left, L.bottom, 1.5);
  axisLine(g, L.left, L.bottom, L.right, L.bottom, 1.5);
  yTicks.forEach(t => yTick(g, y(t), L.left, 6, t.toFixed(2), L.yLabelRight, 37));
  xTicks.forEach(t => xTick(g, x(t), L.bottom, 6, t.toFixed(1), x(t)-1, L.xLabelY, 37));
  /* points */
  const drawDots = (pts, color) => pts.forEach(p => {
    const c = mk('circle', {cx:x(p[0]), cy:y(p[1]), r:4.8, fill:color, stroke:'#fff', 'stroke-width':.8}, g);
    
    
  });
  drawDots(blue, '#1f77b4');
  drawDots(orange, '#f6802a');
  /* legend */
  const lb = mk('rect', {x:L.legend[0], y:L.legend[1], width:L.legend[2]-L.legend[0], height:L.legend[3]-L.legend[1], rx:3, fill:'#fff', 'fill-opacity':.8, stroke:'#ddd', 'stroke-width':2}, g);
  
  
  legendNames.forEach((name, i) => {
    const ly = L.legend[1]+18+i*31;
    const d = mk('circle', {cx:L.legendDotX, cy:ly, r:5.5, fill:i?'#f6802a':'#1f77b4'}, g);
    
    
    const t = write(name, L.legendTextX, ly, 22, 'start', g);
    
    
    t.setAttribute('stroke', '#231f20');
    t.setAttribute('stroke-width', '.3');
  });
  /* annotations */
  L.ellipses.forEach(e => {
    const o = mk('ellipse', {cx:e.cx, cy:e.cy, rx:e.a, ry:e.b, transform:'rotate('+e.rot+' '+e.cx+' '+e.cy+')', fill:'none', stroke:e.color, 'stroke-width':6, 'stroke-dasharray':'15 7'}, g);
    
    
  });
  const lx1 = x(L.line[0]), ly1 = y(L.line[1]), lx2 = x(L.line[2]), ly2 = y(L.line[3]);
  const rl = mk('line', {x1:lx1, y1:ly1, x2:lx2, y2:ly2, stroke:'#ee1c2e', 'stroke-width':7, 'stroke-dasharray':'14 6'}, g);
  
  
  const rc = mk('line', {x1:lx1, y1:ly1, x2:lx2, y2:ly2, stroke:'#ee1c2e', 'stroke-width':1}, g);
  
  
}
jointPlot('scatterAll',{x0:1935.7,xScale:774.5,y0:2089.6,yScale:6950,left:1931.7,right:2430,top:1132,bottom:2135.6,
  topBase:1098,topK:.51,topEdge:.0238,topBin:.0418,rightX:2446.7,rightK:.4975,rightEdge:0,rightBin:.0109,
  yLabelRight:1922,xLabelY:2164,legend:[2160.6,1144,2418,1214],legendDotX:2191,legendTextX:2231,
  ellipses:[{cx:2231,cy:1580,a:252.4,b:118.3,rot:74.2,color:'#3a78ad'},{cx:2053.5,cy:1908,a:218,b:94.5,rot:73.6,color:'#f5843a'}],
  line:[.085,.089,.428,.0036]},
  allControversyPoints,allNoncontroversyPoints,allTopHistOrange,allTopHistBlue,allRightHistOrange,allRightHistBlue,allXTicks,allYTicks,['All Controversy','All Noncontroversy']);
jointPlot('scatterHot',{x0:2699,xScale:647.7,y0:2099,yScale:3074,left:2676.5,right:3176,top:1131,bottom:2145,
  topBase:1096,topK:.51,topEdge:0,topBin:.05,rightX:3192.4,rightK:.481,rightEdge:0,rightBin:.01875,
  yLabelRight:2666,xLabelY:2174,legend:[2900.6,1142,3164,1213],legendDotX:2932,legendTextX:2972,
  ellipses:[],
  line:[-.014,.0134,.738,.0668]},
  hotControversyPoints,hotNoncontroversyPoints,hotTopHistOrange,hotTopHistBlue,hotRightHistOrange,hotRightHistBlue,hotXTicks,hotYTicks,['Hot Controversy','Hot Noncontroversy']);
</script>
</body>
</html>
